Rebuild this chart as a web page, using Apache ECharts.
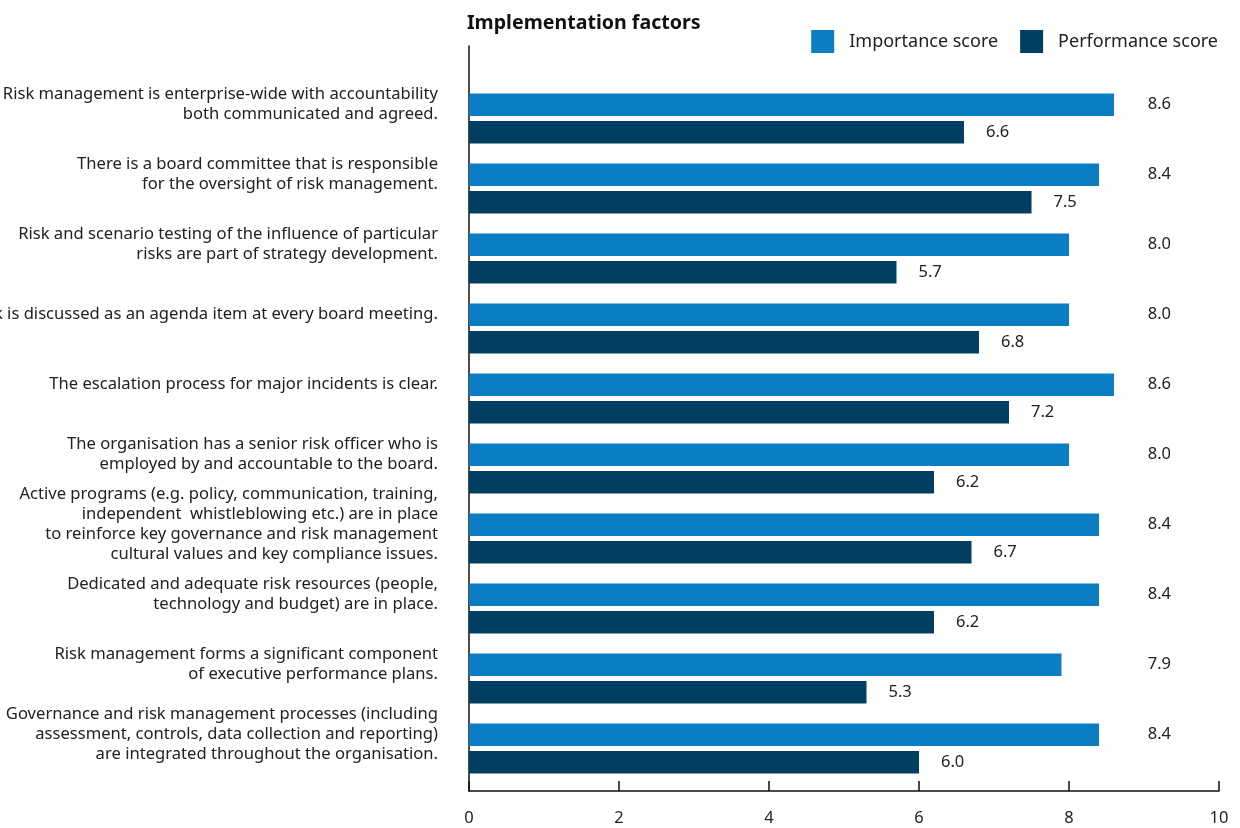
<!DOCTYPE html>
<html>
<head>
<meta charset="UTF-8">
<title>Implementation factors</title>
<style>
  html, body { margin: 0; padding: 0; background: #fff; }
  #container { width: 1240px; height: 828px; }
</style>
</head>
<body>
<div id="container"></div>
<script src="https://cdn.jsdelivr.net/npm/echarts@6/dist/echarts.min.js"></script>
<script>
// categories, top to bottom
var factors = [
  'Risk management is enterprise-wide with accountability\nboth communicated and agreed.',
  'There is a board committee that is responsible\nfor the oversight of risk management.',
  'Risk and scenario testing of the influence of particular\nrisks are part of strategy development.',
  'Risk is discussed as an agenda item at every board meeting.',
  'The escalation process for major incidents is clear.',
  'The organisation has a senior risk officer who is\nemployed by and accountable to the board.',
  'Active programs (e.g. policy, communication, training,\nindependent  whistleblowing etc.) are in place\nto reinforce key governance and risk management\ncultural values and key compliance issues.',
  'Dedicated and adequate risk resources (people,\ntechnology and budget) are in place.',
  'Risk management forms a significant component\nof executive performance plans.',
  'Governance and risk management processes (including\nassessment, controls, data collection and reporting)\nare integrated throughout the organisation.'
];
var importance = [8.6, 8.4, 8.0, 8.0, 8.6, 8.0, 8.4, 8.4, 7.9, 8.4];
var performance = [6.6, 7.5, 5.7, 6.8, 7.2, 6.2, 6.7, 6.2, 5.3, 6.0];
var xTicks = [0, 10, 2]; // min, max, interval

var lightBlue = '#0a7dc4';
var darkBlue = '#003f61';
var font = 'Noto Sans';

var myChart = echarts.init(document.getElementById('container'));

var option = {
  backgroundColor: '#fff',
  animation: false,
  textStyle: { fontFamily: font },
  title: {
    text: 'Implementation factors',
    left: 462,
    top: 8,
    textStyle: { fontFamily: font, fontSize: 19.6, fontWeight: 'bold', color: '#111' }
  },
  legend: {
    right: 17,
    top: 25,
    itemWidth: 23,
    itemHeight: 23,
    itemGap: 22,
    icon: 'rect',
    textStyle: { fontFamily: font, fontSize: 18, color: '#222', padding: [0, 0, 0, 10] },
    data: ['Importance score', 'Performance score']
  },
  grid: [
    { left: 469, right: 21, top: 83.5, height: 700, outerBoundsMode: 'none' },  // bars
    { left: 469, right: 21, top: 46, bottom: 37, outerBoundsMode: 'none' }      // axis frame
  ],
  xAxis: [
    { gridIndex: 0, type: 'value', min: xTicks[0], max: xTicks[1], interval: xTicks[2], show: false },
    {
      gridIndex: 1, type: 'value', min: xTicks[0], max: xTicks[1], interval: xTicks[2],
      axisLine: { show: true, lineStyle: { color: '#111', width: 1.5 } },
      axisTick: { show: true, inside: true, length: 10, lineStyle: { color: '#111', width: 1.5 } },
      axisLabel: { fontFamily: font, fontSize: 16.5, color: '#222', margin: 19 },
      splitLine: { show: false }
    }
  ],
  yAxis: [
    {
      gridIndex: 0, type: 'category', inverse: true, data: factors,
      axisLine: { show: false },
      axisTick: { show: false },
      axisLabel: {
        interval: 0,
        align: 'right',
        margin: 31,
        // extra empty line below lifts the text to the light bar
        formatter: function (v) {
          return v.split('\n').map(function (l) { return '{t|' + l + '}'; }).join('\n') + '\n{s| }';
        },
        rich: {
          t: { fontFamily: font, fontSize: 16.6, lineHeight: 20, color: '#222', align: 'right' },
          s: { fontSize: 1, lineHeight: 28 }
        }
      }
    },
    {
      gridIndex: 1, type: 'value', min: 0, max: 1,
      axisLine: { show: true, lineStyle: { color: '#111', width: 1.5 } },
      axisTick: { show: false },
      axisLabel: { show: false },
      splitLine: { show: false }
    }
  ],
  series: [
    {
      name: 'Importance score',
      type: 'bar',
      xAxisIndex: 0, yAxisIndex: 0,
      data: importance,
      barWidth: 22.5,
      barGap: '22%',
      itemStyle: { color: lightBlue },
      label: {
        show: true, position: 'right', distance: 21,
        fontFamily: font, fontSize: 16.5, color: '#222',
        formatter: function (p) { return p.value.toFixed(1); }
      },
      // light bar labels line up at one x
      labelLayout: function (p) {
        var x = myChart.convertToPixel({ xAxisIndex: 0 }, 9.05);
        return { x: x, y: p.rect.y + p.rect.height / 2, align: 'left', verticalAlign: 'middle' };
      }
    },
    {
      name: 'Performance score',
      type: 'bar',
      xAxisIndex: 0, yAxisIndex: 0,
      data: performance,
      barWidth: 22.5,
      barGap: '22%',
      itemStyle: { color: darkBlue },
      label: {
        show: true, position: 'right', distance: 22,
        fontFamily: font, fontSize: 16.5, color: '#222',
        formatter: function (p) { return p.value.toFixed(1); }
      }
    }
  ]
};

myChart.setOption(option);
</script>
</body>
</html>
